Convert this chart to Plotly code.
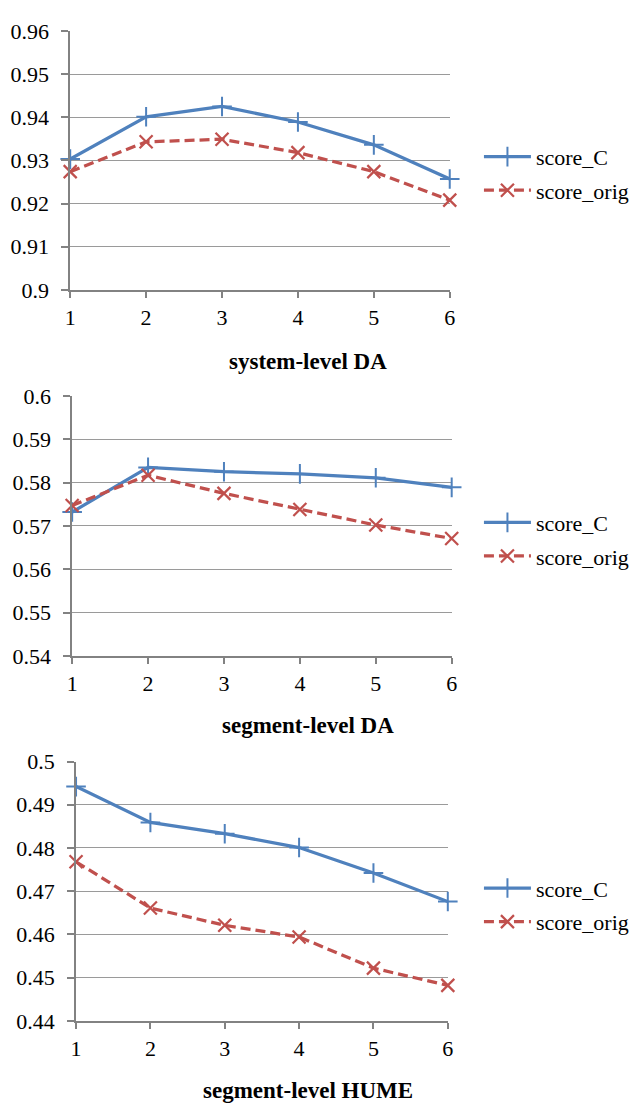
import plotly.graph_objects as go

# ---- data ----
x_vals = [1, 2, 3, 4, 5, 6]

sys_C = [0.9303, 0.9401, 0.9425, 0.9389, 0.9336, 0.9257]
sys_orig = [0.9274, 0.9343, 0.9349, 0.9318, 0.9274, 0.9208]

seg_C = [0.5732, 0.5835, 0.5825, 0.5820, 0.5811, 0.5789]
seg_orig = [0.5747, 0.5817, 0.5775, 0.5738, 0.5702, 0.5671]

hume_C = [0.4942, 0.4859, 0.4833, 0.4801, 0.4742, 0.4676]
hume_orig = [0.4768, 0.4661, 0.4621, 0.4594, 0.4522, 0.4482]

sys_ticks = [0.9, 0.91, 0.92, 0.93, 0.94, 0.95, 0.96]
sys_ticktext = ["0.9", "0.91", "0.92", "0.93", "0.94", "0.95", "0.96"]
seg_ticks = [0.54, 0.55, 0.56, 0.57, 0.58, 0.59, 0.6]
seg_ticktext = ["0.54", "0.55", "0.56", "0.57", "0.58", "0.59", "0.6"]
hume_ticks = [0.44, 0.45, 0.46, 0.47, 0.48, 0.49, 0.5]
hume_ticktext = ["0.44", "0.45", "0.46", "0.47", "0.48", "0.49", "0.5"]

titles = ["system-level DA", "segment-level DA", "segment-level HUME"]
series_names = ["score_C", "score_orig"]

# ---- style ----
W, H = 634, 1115
FONT = "Liberation Serif"
BLUE = "#4F81BD"
RED = "#C0504D"
AXIS = "#828282"
GRID = "#9a9a9a"

panels = [
    dict(C=sys_C, O=sys_orig, tv=sys_ticks, tt=sys_ticktext,
         px=(67, 457), py=(19.3, 284.3), leg_y=165.5, title_y=358),
    dict(C=seg_C, O=seg_orig, tv=seg_ticks, tt=seg_ticktext,
         px=(69, 459), py=(392.7, 658.7), leg_y=539.7, title_y=730),
    dict(C=hume_C, O=hume_orig, tv=hume_ticks, tt=hume_ticktext,
         px=(73, 455), py=(766.7, 1032), leg_y=913.7, title_y=1103),
]

fig = go.Figure()
layout = dict(
    width=W, height=H,
    margin=dict(l=0, r=0, t=0, b=0),
    paper_bgcolor="white", plot_bgcolor="white",
    font=dict(family=FONT, size=22, color="black"),
    showlegend=True,
    annotations=[],
)

for i, p in enumerate(panels):
    n = i + 1
    xa = "x" if n == 1 else f"x{n}"
    ya = "y" if n == 1 else f"y{n}"
    leg = "legend" if n == 1 else f"legend{n}"
    dom_x = [p["px"][0] / W, p["px"][1] / W]
    dom_y = [1 - p["py"][1] / H, 1 - p["py"][0] / H]

    fig.add_trace(go.Scatter(
        x=x_vals, y=p["C"], name=series_names[0], mode="lines+markers",
        line=dict(color=BLUE, width=3.25),
        marker=dict(symbol="cross-thin", size=14, line=dict(color=BLUE, width=2)),
        xaxis=xa, yaxis=ya, legend=leg, legendgroup=f"c{n}", cliponaxis=False,
    ))
    fig.add_trace(go.Scatter(
        x=x_vals, y=p["O"], name=series_names[1], mode="lines+markers",
        line=dict(color=RED, width=3.25, dash="10px,5px"),
        marker=dict(symbol="x-thin", size=13, line=dict(color=RED, width=2.25)),
        xaxis=xa, yaxis=ya, legend=leg, legendgroup=f"o{n}", cliponaxis=False,
    ))

    layout[f"xaxis{'' if n == 1 else n}"] = dict(
        domain=dom_x, anchor=ya, range=[x_vals[0], x_vals[-1]],
        tickvals=x_vals, ticktext=[str(v) for v in x_vals],
        showline=True, linecolor=AXIS, linewidth=1.6,
        ticks="outside", ticklen=6, tickcolor=AXIS, tickwidth=1.6,
        showgrid=False, zeroline=False, ticklabelstandoff=1,
        tickfont=dict(family=FONT, size=22, color="black"),
    )
    layout[f"yaxis{'' if n == 1 else n}"] = dict(
        domain=dom_y, anchor=xa, range=[p["tv"][0], p["tv"][-1]],
        tickvals=p["tv"], ticktext=p["tt"],
        showline=True, linecolor=AXIS, linewidth=1.6,
        ticks="outside", ticklen=7, tickcolor=AXIS, tickwidth=1.6,
        showgrid=True, gridcolor=GRID, gridwidth=1.4, zeroline=False,
        ticklabelstandoff=8,
        tickfont=dict(family=FONT, size=22, color="black"),
    )
    # overlay axis to make x ticks cross the axis line (inside part)
    layout[f"xaxis{n + 3}"] = dict(
        domain=dom_x, anchor=ya, overlaying=xa, range=[x_vals[0], x_vals[-1]],
        tickvals=x_vals, showticklabels=False, showline=False,
        ticks="inside", ticklen=6, tickcolor=AXIS, tickwidth=1.6,
        showgrid=False, zeroline=False,
    )
    layout[leg] = dict(
        x=487 / W, xanchor="left", y=1 - p["leg_y"] / H, yanchor="middle",
        bgcolor="rgba(0,0,0,0)", traceorder="grouped", tracegroupgap=2,
        itemwidth=47,
        font=dict(family=FONT, size=22, color="black"),
    )
    layout["annotations"].append(dict(
        text=f"<b>{titles[i]}</b>", xref="paper", yref="paper",
        x=311 / W, y=1 - p["title_y"] / H, xanchor="center", yanchor="middle",
        showarrow=False, font=dict(family=FONT, size=23, color="black"),
    ))

fig.update_layout(**layout)
fig.write_html(
    "out.html",
    config={"displayModeBar": False},
    post_script=(
        "document.body.style.margin='0';"
        "document.body.style.overflow='hidden';"
        "document.documentElement.style.overflow='hidden';"
    ),
)
